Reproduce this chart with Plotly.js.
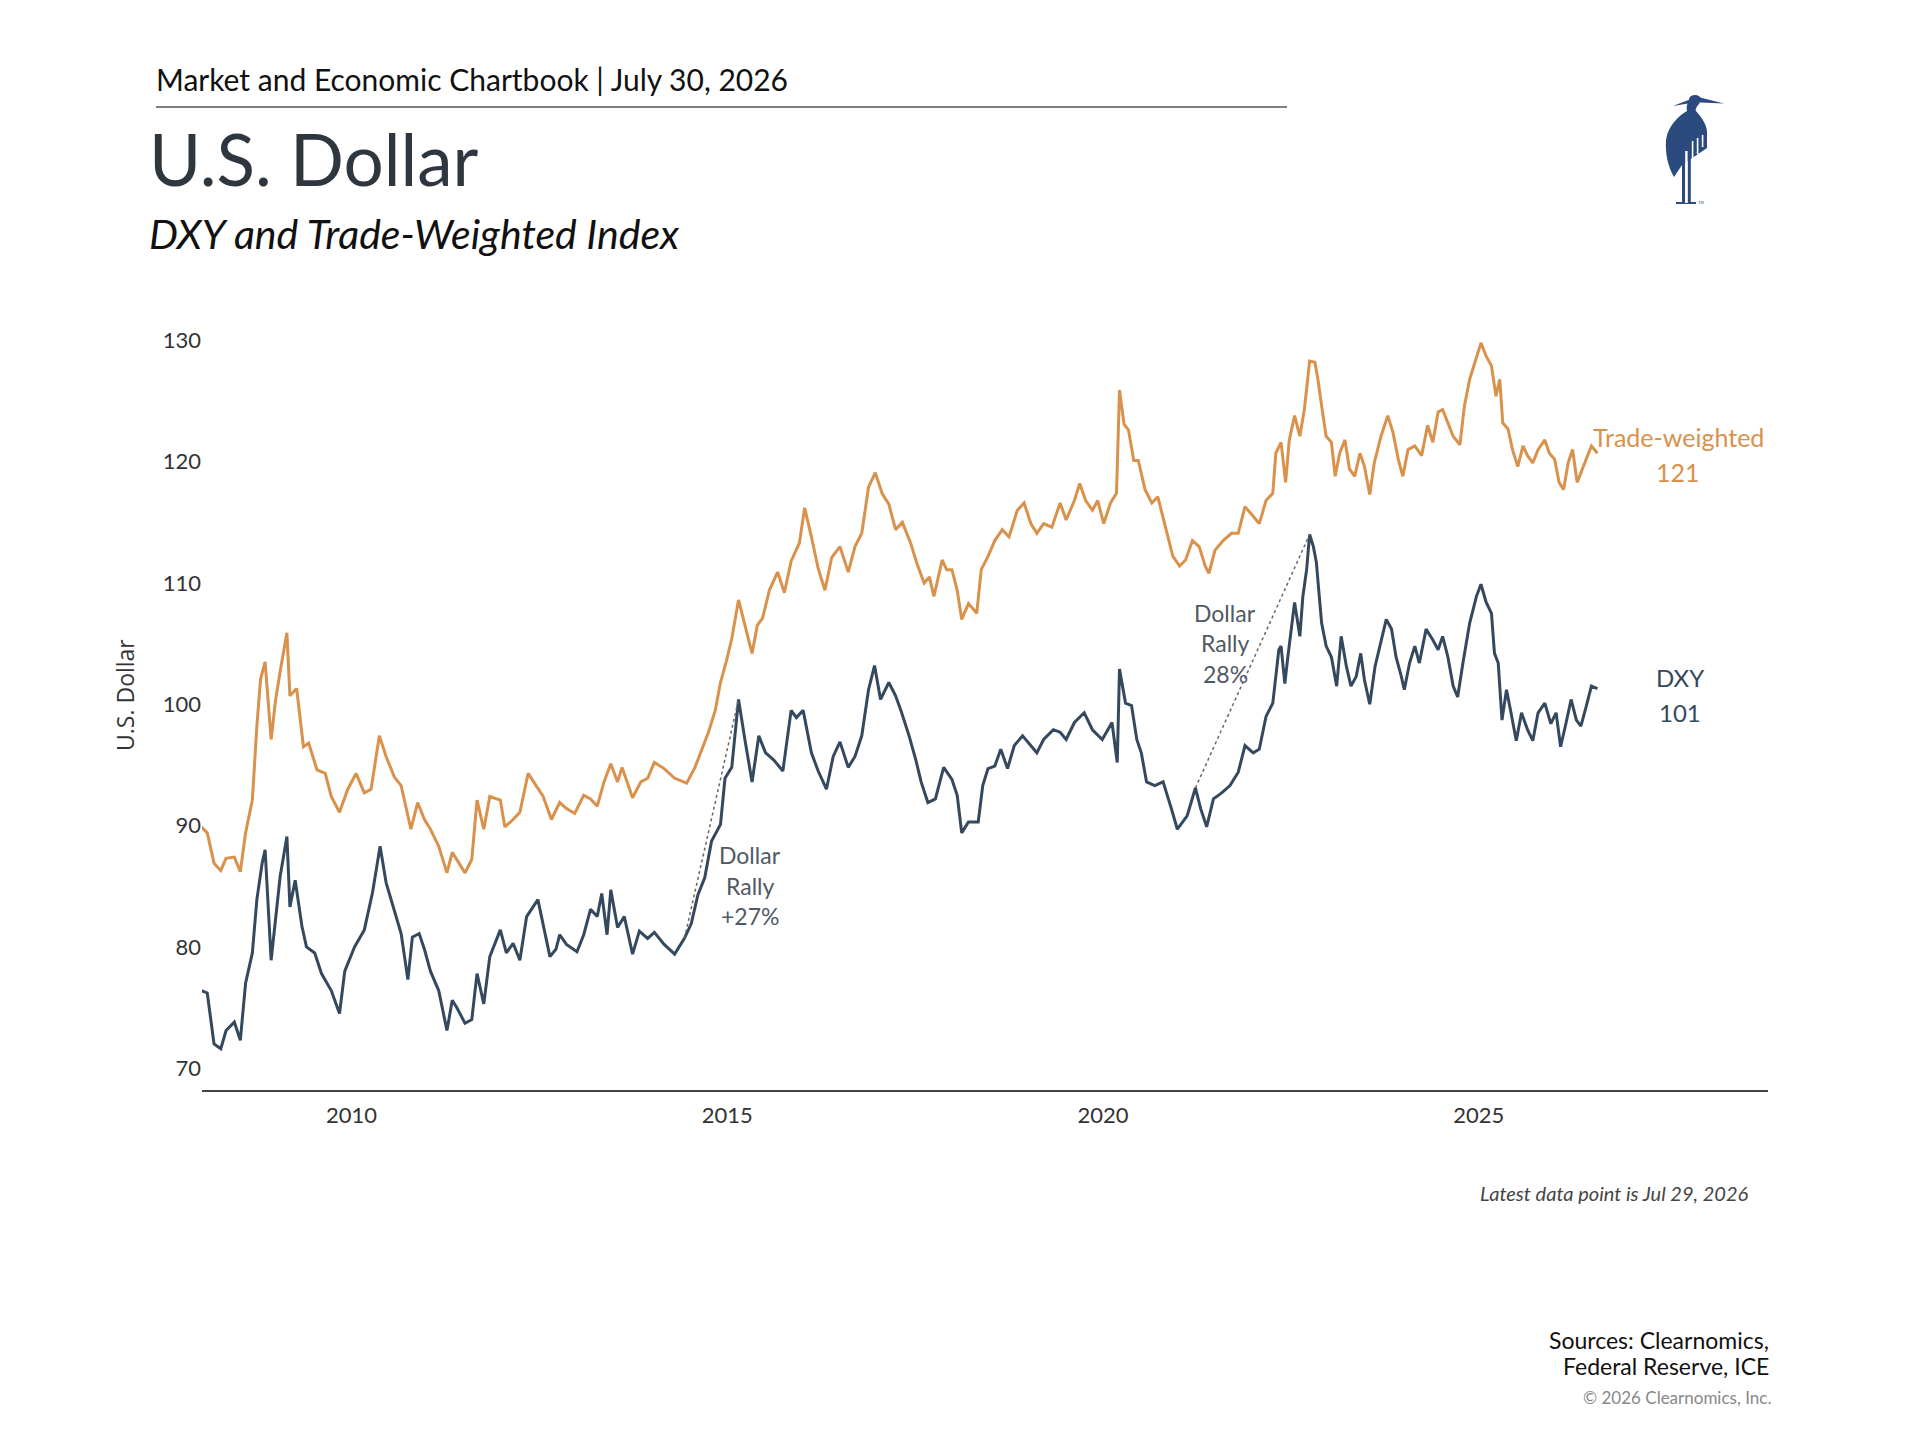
<!DOCTYPE html>
<html>
<head>
<meta charset="utf-8">
<script src="https://cdn.plot.ly/plotly-3.0.1.min.js"></script>
<style>
  html, body { margin: 0; padding: 0; background: #ffffff; }
  #chart { width: 1920px; height: 1440px; }
</style>
</head>
<body>
<div id="chart"></div>
<script>
// ---------------- DATA ----------------
const dxyDates = [
  2008.00,2008.08,2008.17,2008.26,2008.33,2008.44,2008.52,2008.59,2008.68,2008.74,2008.81,2008.85,2008.93,2008.99,
  2009.05,2009.14,2009.18,2009.25,2009.34,2009.40,2009.51,2009.60,2009.73,2009.84,2009.91,
  2010.04,2010.17,2010.28,2010.38,2010.46,2010.57,2010.66,2010.75,2010.81,2010.90,2010.97,
  2011.05,2011.16,2011.27,2011.34,2011.40,2011.51,2011.60,2011.67,2011.76,2011.84,2011.98,
  2012.06,2012.15,2012.24,2012.33,2012.48,2012.64,2012.72,2012.77,2012.86,
  2013.00,2013.09,2013.18,2013.27,2013.33,2013.40,2013.45,2013.54,2013.63,2013.74,2013.83,2013.94,
  2014.03,2014.16,2014.30,2014.43,2014.52,2014.61,2014.70,2014.79,2014.91,2014.97,
  2015.06,2015.15,2015.24,2015.33,2015.42,2015.51,2015.62,2015.74,2015.85,2015.92,
  2016.01,2016.12,2016.21,2016.32,2016.41,2016.50,2016.61,2016.70,2016.79,2016.88,2016.96,
  2017.04,2017.15,2017.24,2017.31,2017.42,2017.51,2017.58,2017.67,2017.77,2017.88,2017.99,
  2018.06,2018.12,2018.21,2018.34,2018.40,2018.47,2018.56,2018.64,2018.73,2018.82,2018.93,
  2019.04,2019.12,2019.21,2019.34,2019.43,2019.51,2019.62,2019.75,2019.86,2019.99,
  2020.12,2020.19,2020.22,2020.30,2020.38,2020.45,2020.51,2020.58,2020.69,2020.80,2020.91,2020.99,
  2021.12,2021.23,2021.30,2021.38,2021.47,2021.58,2021.69,2021.80,2021.89,2022.00,
  2022.08,2022.17,2022.26,2022.34,2022.37,2022.42,2022.46,2022.55,2022.62,2022.66,2022.71,2022.75,
  2022.80,2022.84,2022.87,2022.91,2022.97,
  2023.04,2023.11,2023.17,2023.24,2023.30,2023.37,2023.43,2023.48,2023.55,2023.62,2023.70,2023.77,2023.84,2023.90,2023.97,
  2024.01,2024.08,2024.15,2024.21,2024.30,2024.39,2024.46,2024.52,2024.59,2024.66,2024.72,2024.79,2024.88,2024.97,
  2025.03,2025.10,2025.17,2025.21,2025.26,2025.31,2025.37,2025.43,2025.50,2025.57,2025.65,2025.72,2025.79,2025.88,2025.96,
  2026.03,2026.09,2026.16,2026.23,2026.30,2026.36,2026.43,2026.50,2026.58
];
const dxyValues = [
  76.4,76.2,72.0,71.6,73.1,73.8,72.3,77.0,79.5,83.9,86.9,88.0,78.9,82.5,
  85.8,89.1,83.3,85.5,81.7,80.0,79.5,77.8,76.4,74.5,78.0,
  80.0,81.4,84.5,88.3,85.3,83.1,81.1,77.3,80.8,81.1,79.8,
  78.0,76.4,73.1,75.6,75.0,73.7,74.0,77.8,75.3,79.2,81.4,
  79.5,80.3,78.9,82.5,83.9,79.2,79.8,81.0,80.2,
  79.6,81.0,83.1,82.5,84.4,81.0,84.7,81.6,82.5,79.4,81.3,80.7,
  81.2,80.2,79.4,80.7,81.9,84.3,85.7,88.7,90.1,93.9,
  94.8,100.4,96.9,93.6,97.4,96.0,95.4,94.5,99.5,98.9,
  99.5,96.0,94.5,93.0,95.7,96.9,94.8,95.7,97.4,101.2,103.2,
  100.4,101.8,100.7,99.5,97.4,95.4,93.6,91.9,92.2,94.8,93.8,
  92.5,89.4,90.3,90.3,93.3,94.7,94.9,96.3,94.7,96.6,97.4,
  96.6,96.0,97.1,97.9,97.7,97.1,98.5,99.3,97.9,97.1,
  98.5,95.2,102.9,100.1,99.9,97.1,96.0,93.6,93.3,93.6,91.4,89.7,
  90.8,93.1,91.4,89.9,92.2,92.7,93.3,94.4,96.6,96.0,
  96.3,99.0,100.1,104.5,104.8,101.7,103.9,108.4,105.6,108.9,111.1,114.0,
  113.0,111.7,109.5,106.7,104.8,
  103.9,101.5,105.6,103.1,101.5,102.3,104.2,102.0,100.0,103.1,105.3,107.0,106.2,103.9,102.3,
  101.2,103.4,104.8,103.4,106.2,105.3,104.5,105.6,103.9,101.5,100.6,103.4,106.7,108.9,
  109.9,108.4,107.5,104.2,103.4,98.7,101.2,99.3,97.0,99.3,97.9,97.0,99.3,100.1,98.4,
  99.3,96.5,98.4,100.4,98.7,98.2,99.8,101.5,101.3
];

const twDates = [
  2008.00,2008.08,2008.17,2008.26,2008.33,2008.44,2008.52,2008.59,2008.68,2008.74,2008.79,2008.85,2008.93,2008.99,
  2009.05,2009.14,2009.18,2009.27,2009.36,2009.43,2009.54,2009.65,2009.73,2009.84,2009.95,
  2010.06,2010.17,2010.26,2010.37,2010.46,2010.57,2010.66,2010.79,2010.88,2010.97,
  2011.05,2011.16,2011.27,2011.34,2011.40,2011.51,2011.60,2011.67,2011.76,2011.84,2011.98,
  2012.04,2012.15,2012.24,2012.35,2012.46,2012.55,2012.66,2012.77,2012.86,2012.97,
  2013.09,2013.18,2013.27,2013.36,2013.45,2013.54,2013.60,2013.74,2013.85,2013.94,
  2014.03,2014.16,2014.30,2014.46,2014.57,2014.66,2014.75,2014.84,2014.91,2014.99,
  2015.06,2015.15,2015.22,2015.33,2015.40,2015.47,2015.56,2015.67,2015.76,2015.85,2015.96,
  2016.03,2016.12,2016.21,2016.30,2016.39,2016.50,2016.61,2016.70,2016.79,2016.88,2016.97,
  2017.06,2017.15,2017.24,2017.33,2017.44,2017.53,2017.62,2017.69,2017.75,2017.86,2017.92,2017.99,
  2018.06,2018.12,2018.21,2018.32,2018.38,2018.47,2018.56,2018.66,2018.75,2018.86,2018.95,
  2019.04,2019.12,2019.21,2019.32,2019.43,2019.51,2019.62,2019.69,2019.77,2019.86,2019.93,
  2020.01,2020.10,2020.18,2020.22,2020.28,2020.34,2020.41,2020.47,2020.56,2020.65,2020.73,2020.82,2020.93,
  2021.02,2021.10,2021.19,2021.28,2021.36,2021.41,2021.49,2021.60,2021.71,2021.80,2021.89,
  2022.00,2022.08,2022.17,2022.26,2022.30,2022.37,2022.43,2022.48,2022.55,2022.62,2022.68,2022.75,
  2022.82,2022.86,2022.91,2022.97,
  2023.04,2023.09,2023.15,2023.22,2023.28,2023.35,2023.42,2023.48,2023.55,2023.61,2023.70,2023.79,2023.86,2023.93,2023.99,
  2024.06,2024.15,2024.24,2024.32,2024.39,2024.46,2024.52,2024.59,2024.66,2024.75,2024.81,2024.88,2024.97,
  2025.03,2025.10,2025.17,2025.23,2025.28,2025.32,2025.39,2025.45,2025.52,2025.59,2025.65,2025.72,2025.79,2025.88,2025.94,
  2026.01,2026.07,2026.13,2026.19,2026.25,2026.31,2026.38,2026.45,2026.50,2026.58
];
const twValues = [
  89.9,89.4,86.9,86.3,87.3,87.4,86.2,89.4,92.1,98.2,102.1,103.5,97.1,100.4,
  102.7,105.9,100.7,101.3,96.5,96.8,94.6,94.3,92.4,91.1,93.0,
  94.3,92.7,93.0,97.4,95.7,94.0,93.3,89.7,91.9,90.5,
  89.7,88.3,86.1,87.8,87.2,86.1,87.2,92.1,89.7,92.4,92.1,
  89.9,90.5,91.1,94.3,93.3,92.4,90.5,91.9,91.4,91.0,
  92.5,92.2,91.6,93.6,95.1,93.6,94.8,92.3,93.6,93.9,
  95.2,94.7,93.9,93.5,94.8,96.3,97.7,99.5,101.8,103.6,
  105.4,108.6,106.8,104.2,106.5,107.1,109.4,110.9,109.2,111.8,113.3,
  116.2,113.8,111.2,109.4,112.1,113.0,110.9,113.0,114.1,117.9,119.1,
  117.4,116.5,114.4,115.0,113.3,111.5,110.0,110.5,108.9,111.9,111.1,111.1,
  109.4,107.0,108.3,107.5,111.1,112.2,113.5,114.4,113.8,116.0,116.6,
  114.9,114.1,114.9,114.6,116.6,115.2,116.8,118.2,116.8,116.0,116.8,
  114.9,116.6,117.4,125.9,123.1,122.6,120.1,120.1,117.7,116.6,117.1,114.9,112.2,
  111.4,111.9,113.5,113.0,111.4,110.8,112.7,113.5,114.1,114.1,116.3,
  115.5,114.9,116.8,117.4,120.7,121.6,118.3,121.8,123.8,122.1,124.3,128.3,
  128.2,126.8,124.6,122.1,
  121.6,118.8,120.7,121.8,119.4,118.8,120.7,119.6,117.3,119.9,122.1,123.8,122.4,120.2,118.8,
  121.0,121.3,120.5,123.0,121.6,124.1,124.3,123.2,122.1,121.4,124.6,126.8,128.5,
  129.8,128.7,127.9,125.4,126.8,123.2,122.7,121.0,119.6,121.3,120.5,119.9,121.0,121.8,120.7,
  120.2,118.3,117.7,119.9,121.0,118.3,119.4,120.5,121.3,120.7
];

const xTickVals = [2010, 2015, 2020, 2025];
const xTickText = ["2010", "2015", "2020", "2025"];
const yTickVals = [70, 80, 90, 100, 110, 120, 130];
const yTickText = ["70", "80", "90", "100", "110", "120", "130"];

// rally annotations: start / end dates on the DXY series
const rallyStartDates = [2014.43, 2021.23];
const rallyEndDates = [2015.15, 2022.75];
const rallyLines = [["Dollar", "Rally", "+27%"], ["Dollar", "Rally", "28%"]];

// ---------------- STYLE ----------------
const W = 1920, H = 1440;
const M = { l: 202, r: 152, t: 330, b: 350 };
const PW = W - M.l - M.r, PH = H - M.t - M.b;
const px = (x) => (x - M.l) / PW;
const py = (y) => (H - M.b - y) / PH;

const ORANGE = "#D9914B";
const SLATE = "#34495E";
const FONT = "Lato, 'Noto Sans', sans-serif";

function dxyAt(d) {
  let best = 0;
  for (let i = 0; i < dxyDates.length; i++) {
    if (Math.abs(dxyDates[i] - d) < Math.abs(dxyDates[best] - d)) best = i;
  }
  return [dxyDates[best], dxyValues[best]];
}

const traces = [
  { x: twDates, y: twValues, type: "scatter", mode: "lines", name: "Trade-weighted",
    line: { color: ORANGE, width: 3 }, hoverinfo: "skip" },
  { x: dxyDates, y: dxyValues, type: "scatter", mode: "lines", name: "DXY",
    line: { color: SLATE, width: 3 }, hoverinfo: "skip" }
];

const shapes = [
  { type: "line", xref: "paper", yref: "paper", x0: px(156), x1: px(1287), y0: py(107), y1: py(107),
    line: { color: "#555", width: 1.3 } }
];
for (let i = 0; i < rallyStartDates.length; i++) {
  const a = dxyAt(rallyStartDates[i]), b = dxyAt(rallyEndDates[i]);
  shapes.push({ type: "line", xref: "x", yref: "y", x0: a[0], y0: a[1], x1: b[0], y1: b[1],
    line: { color: "#666", width: 1.5, dash: "dot" } });
}

const ann = (text, x, y, opts) => Object.assign({
  text, xref: "paper", yref: "paper", x: px(x), y: py(y), showarrow: false,
  xanchor: "left", yanchor: "middle", font: { family: FONT, size: 22, color: "#333" }
}, opts || {});

const annotations = [
  ann("Market and Economic Chartbook | July 30, 2026", 154, 79, { font: { family: FONT, size: 30, color: "#111" } }),
  ann("U.S. Dollar", 147, 159, { font: { family: FONT, size: 71, color: "#2E3640" } }),
  ann("<i>DXY and Trade-Weighted Index</i>", 147, 233, { font: { family: FONT, size: 41, color: "#111" } }),
  ann("Trade-weighted", 1678, 437, { xanchor: "center", font: { family: FONT, size: 25, color: ORANGE } }),
  ann("121", 1678, 472, { xanchor: "center", font: { family: FONT, size: 25, color: ORANGE } }),
  ann("DXY", 1680, 677, { xanchor: "center", font: { family: FONT, size: 24, color: SLATE } }),
  ann("101", 1680, 712, { xanchor: "center", font: { family: FONT, size: 24, color: SLATE } }),
  ann("<i>Latest data point is Jul 29, 2026</i>", 1751, 1193, { xanchor: "right", font: { family: FONT, size: 20, color: "#444" } }),
  ann("Sources: Clearnomics,", 1771, 1340, { xanchor: "right", font: { family: FONT, size: 23, color: "#111" } }),
  ann("Federal Reserve, ICE", 1771, 1366, { xanchor: "right", font: { family: FONT, size: 23, color: "#111" } }),
  ann("© 2026 Clearnomics, Inc.", 1773, 1397, { xanchor: "right", font: { family: FONT, size: 17, color: "#888" } }),
  ann("U.S. Dollar", 125, 695, { xanchor: "center", textangle: -90, font: { family: "'Open Sans', sans-serif", size: 23, color: "#333" } })
];
const rallyPos = [[750, [855, 886, 916]], [1225, [613, 643, 674]]];
for (let i = 0; i < rallyLines.length; i++) {
  for (let j = 0; j < rallyLines[i].length; j++) {
    annotations.push(ann(rallyLines[i][j], rallyPos[i][0], rallyPos[i][1][j],
      { xanchor: "center", font: { family: FONT, size: 23, color: "#505a64" } }));
  }
}

const heronSvg =
  '<svg xmlns="http://www.w3.org/2000/svg" viewBox="0 0 100 130">' +
  '<g fill="#2B4A7E">' +
  '<path d="M30 13 C27 18 26 22 27 26 C20 30 8 40 6 55 C5 68 8 82 14 92 L22 80 L47 63 L47 46 C46 38 41 32 36 26 C35 24 37 21 40 18 Z"/>' +
  '<ellipse cx="35" cy="14.5" rx="6" ry="4.5"/>' +
  '<polygon points="38,12 64,18.5 40,17.5"/>' +
  '<polygon points="31,14 13,21 31,18"/>' +
  '<rect x="22" y="62" width="3.2" height="56"/>' +
  '<rect x="27.6" y="64" width="3.2" height="54"/>' +
  '<rect x="16" y="117" width="20" height="2"/>' +
  '</g>' +
  '<g fill="#ffffff">' +
  '<rect x="31.8" y="56" width="1.6" height="20"/>' +
  '<rect x="36.8" y="53" width="1.6" height="16"/>' +
  '<rect x="41.8" y="50" width="1.6" height="12"/>' +
  '<rect x="25.2" y="66" width="2.4" height="52"/>' +
  '</g>' +
  '<text x="38" y="119" font-size="4" fill="#2B4A7E" font-family="sans-serif">TM</text>' +
  '</svg>';

const layout = {
  width: W, height: H,
  margin: M,
  paper_bgcolor: "#ffffff", plot_bgcolor: "#ffffff",
  showlegend: false,
  font: { family: FONT, size: 22, color: "#333" },
  xaxis: {
    type: "linear", range: [2008.01, 2028.85],
    tickvals: xTickVals, ticktext: xTickText,
    showgrid: false, zeroline: false, ticks: "",
    showline: true, linecolor: "#444", linewidth: 1.5,
    tickfont: { family: FONT, size: 22, color: "#333" },
    ticklabelstandoff: 5
  },
  yaxis: {
    range: [68.2, 130.86],
    tickvals: yTickVals, ticktext: yTickText,
    showgrid: false, zeroline: false, ticks: "", showline: false,
    tickfont: { family: FONT, size: 22, color: "#333" }
  },
  shapes: shapes,
  annotations: annotations,
  images: [{
    source: "data:image/svg+xml;charset=utf-8," + encodeURIComponent(heronSvg),
    xref: "paper", yref: "paper", x: px(1660), y: py(85),
    sizex: 100 / PW, sizey: 130 / PH, xanchor: "left", yanchor: "top",
    sizing: "stretch", layer: "above"
  }]
};

Plotly.newPlot("chart", traces, layout, { displayModeBar: false, staticPlot: true });
</script>
</body>
</html>
